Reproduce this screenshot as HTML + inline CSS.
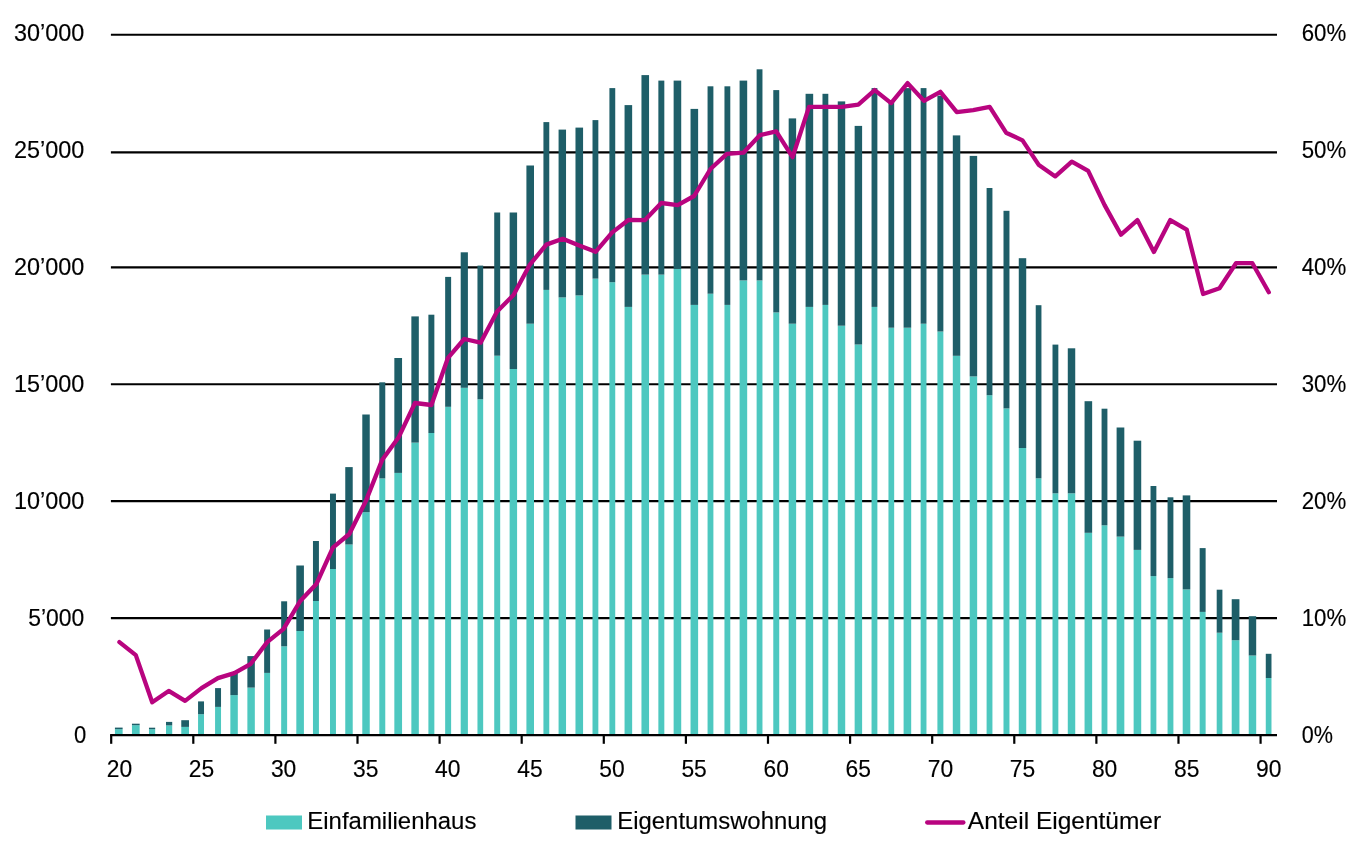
<!DOCTYPE html>
<html><head><meta charset="utf-8"><title>Chart</title>
<style>
html,body{margin:0;padding:0;background:#fff;}
body{width:1360px;height:855px;overflow:hidden;}
svg{display:block;filter:blur(0.45px);}
text{font-family:"Liberation Sans",sans-serif;font-size:23.5px;fill:#000;stroke:#000;stroke-width:0.15px;}
</style></head><body>
<svg width="1360" height="855" viewBox="0 0 1360 855">
<rect width="1360" height="855" fill="#fff"/>
<g stroke="#000" stroke-width="2.2">
<line x1="110.9" y1="34.77" x2="1277" y2="34.77"/>
<line x1="110.9" y1="152.28" x2="1277" y2="152.28"/>
<line x1="110.9" y1="267.3" x2="1277" y2="267.3"/>
<line x1="110.9" y1="384.25" x2="1277" y2="384.25"/>
<line x1="110.9" y1="501.17" x2="1277" y2="501.17"/>
<line x1="110.9" y1="618.07" x2="1277" y2="618.07"/>
</g>
<g fill="#4DC8C0">
<rect x="114.92" y="729.2" width="7.71" height="5.9"/>
<rect x="131.95" y="725.2" width="7.71" height="9.9"/>
<rect x="148.97" y="729.2" width="6.21" height="5.9"/>
<rect x="166.00" y="725.4" width="6.21" height="9.7"/>
<rect x="181.27" y="726.9" width="7.71" height="8.2"/>
<rect x="198.05" y="714.2" width="5.96" height="20.9"/>
<rect x="215.07" y="706.9" width="5.96" height="28.2"/>
<rect x="230.35" y="695.1" width="7.46" height="40.0"/>
<rect x="247.37" y="687.6" width="7.46" height="47.5"/>
<rect x="264.15" y="672.9" width="5.96" height="62.2"/>
<rect x="281.17" y="646.3" width="5.96" height="88.8"/>
<rect x="296.32" y="631.0" width="7.59" height="104.1"/>
<rect x="312.96" y="601.0" width="5.96" height="134.1"/>
<rect x="329.99" y="569.0" width="5.96" height="166.1"/>
<rect x="345.26" y="544.5" width="7.46" height="190.6"/>
<rect x="362.29" y="512.2" width="7.46" height="222.9"/>
<rect x="379.31" y="478.4" width="5.96" height="256.7"/>
<rect x="394.34" y="472.9" width="7.71" height="262.2"/>
<rect x="411.36" y="442.6" width="7.46" height="292.5"/>
<rect x="428.39" y="433.0" width="5.96" height="302.1"/>
<rect x="445.16" y="406.8" width="5.96" height="328.3"/>
<rect x="460.69" y="387.8" width="7.21" height="347.3"/>
<rect x="477.46" y="399.3" width="5.71" height="335.8"/>
<rect x="494.23" y="355.7" width="5.96" height="379.4"/>
<rect x="509.63" y="369.0" width="7.46" height="366.1"/>
<rect x="526.41" y="323.7" width="7.59" height="411.4"/>
<rect x="543.43" y="289.9" width="5.83" height="445.2"/>
<rect x="558.58" y="297.4" width="7.46" height="437.7"/>
<rect x="575.48" y="295.4" width="7.59" height="439.7"/>
<rect x="592.51" y="278.6" width="5.83" height="456.5"/>
<rect x="609.41" y="282.2" width="5.83" height="452.9"/>
<rect x="624.56" y="306.9" width="7.59" height="428.2"/>
<rect x="641.46" y="274.6" width="7.59" height="460.5"/>
<rect x="658.36" y="274.6" width="5.96" height="460.5"/>
<rect x="673.63" y="268.9" width="7.59" height="466.2"/>
<rect x="690.53" y="304.9" width="7.59" height="430.2"/>
<rect x="707.56" y="293.7" width="5.83" height="441.4"/>
<rect x="724.46" y="304.9" width="5.83" height="430.2"/>
<rect x="739.60" y="280.4" width="7.59" height="454.7"/>
<rect x="756.63" y="280.4" width="5.83" height="454.7"/>
<rect x="773.28" y="312.4" width="5.96" height="422.7"/>
<rect x="788.68" y="323.7" width="7.46" height="411.4"/>
<rect x="805.58" y="306.9" width="7.59" height="428.2"/>
<rect x="822.48" y="304.9" width="5.83" height="430.2"/>
<rect x="837.75" y="325.7" width="7.46" height="409.4"/>
<rect x="854.65" y="344.5" width="7.46" height="390.6"/>
<rect x="871.55" y="306.9" width="5.83" height="428.2"/>
<rect x="888.46" y="327.7" width="5.71" height="407.4"/>
<rect x="903.60" y="327.7" width="7.59" height="407.4"/>
<rect x="920.63" y="323.7" width="5.83" height="411.4"/>
<rect x="937.40" y="331.5" width="5.96" height="403.6"/>
<rect x="952.80" y="355.8" width="7.46" height="379.3"/>
<rect x="969.70" y="376.4" width="7.46" height="358.7"/>
<rect x="986.60" y="395.2" width="5.83" height="339.9"/>
<rect x="1003.50" y="408.4" width="5.96" height="326.7"/>
<rect x="1018.77" y="448.0" width="7.46" height="287.1"/>
<rect x="1035.73" y="478.3" width="5.71" height="256.8"/>
<rect x="1052.51" y="493.3" width="5.83" height="241.8"/>
<rect x="1067.78" y="493.3" width="7.46" height="241.8"/>
<rect x="1084.56" y="532.8" width="7.59" height="202.3"/>
<rect x="1101.58" y="525.3" width="5.83" height="209.8"/>
<rect x="1116.61" y="536.6" width="7.71" height="198.5"/>
<rect x="1133.63" y="549.9" width="7.59" height="185.2"/>
<rect x="1150.53" y="576.1" width="5.83" height="159.0"/>
<rect x="1167.56" y="578.1" width="5.83" height="157.0"/>
<rect x="1182.70" y="589.4" width="7.59" height="145.7"/>
<rect x="1199.67" y="611.9" width="5.96" height="123.2"/>
<rect x="1216.70" y="632.7" width="5.71" height="102.4"/>
<rect x="1231.72" y="640.2" width="7.71" height="94.9"/>
<rect x="1248.74" y="655.5" width="7.46" height="79.6"/>
<rect x="1265.77" y="678.0" width="5.71" height="57.1"/>
</g>
<g fill="#1E5E68">
<rect x="114.92" y="727.6" width="7.71" height="1.6"/>
<rect x="131.95" y="723.7" width="7.71" height="1.5"/>
<rect x="148.97" y="727.7" width="6.21" height="1.5"/>
<rect x="166.00" y="721.9" width="6.21" height="3.5"/>
<rect x="181.27" y="720.2" width="7.71" height="6.7"/>
<rect x="198.05" y="701.4" width="5.96" height="12.8"/>
<rect x="215.07" y="688.1" width="5.96" height="18.8"/>
<rect x="230.35" y="672.6" width="7.46" height="22.5"/>
<rect x="247.37" y="656.1" width="7.46" height="31.5"/>
<rect x="264.15" y="629.5" width="5.96" height="43.4"/>
<rect x="281.17" y="601.3" width="5.96" height="45.0"/>
<rect x="296.32" y="565.5" width="7.59" height="65.5"/>
<rect x="312.96" y="541.0" width="5.96" height="60.0"/>
<rect x="329.99" y="493.6" width="5.96" height="75.4"/>
<rect x="345.26" y="467.1" width="7.46" height="77.4"/>
<rect x="362.29" y="414.5" width="7.46" height="97.7"/>
<rect x="379.31" y="382.3" width="5.96" height="96.1"/>
<rect x="394.34" y="358.0" width="7.71" height="114.9"/>
<rect x="411.36" y="316.4" width="7.46" height="126.2"/>
<rect x="428.39" y="314.7" width="5.96" height="118.3"/>
<rect x="445.16" y="276.9" width="5.96" height="129.9"/>
<rect x="460.69" y="252.3" width="7.21" height="135.5"/>
<rect x="477.46" y="265.6" width="5.71" height="133.7"/>
<rect x="494.23" y="212.5" width="5.96" height="143.2"/>
<rect x="509.63" y="212.5" width="7.46" height="156.5"/>
<rect x="526.41" y="165.5" width="7.59" height="158.2"/>
<rect x="543.43" y="122.1" width="5.83" height="167.8"/>
<rect x="558.58" y="129.6" width="7.46" height="167.8"/>
<rect x="575.48" y="127.6" width="7.59" height="167.8"/>
<rect x="592.51" y="120.1" width="5.83" height="158.5"/>
<rect x="609.41" y="88.1" width="5.83" height="194.1"/>
<rect x="624.56" y="105.1" width="7.59" height="201.8"/>
<rect x="641.46" y="75.1" width="7.59" height="199.5"/>
<rect x="658.36" y="80.6" width="5.96" height="194.0"/>
<rect x="673.63" y="80.6" width="7.59" height="188.3"/>
<rect x="690.53" y="108.9" width="7.59" height="196.0"/>
<rect x="707.56" y="86.3" width="5.83" height="207.4"/>
<rect x="724.46" y="86.3" width="5.83" height="218.6"/>
<rect x="739.60" y="80.6" width="7.59" height="199.8"/>
<rect x="756.63" y="69.3" width="5.83" height="211.1"/>
<rect x="773.28" y="90.1" width="5.96" height="222.3"/>
<rect x="788.68" y="118.4" width="7.46" height="205.3"/>
<rect x="805.58" y="93.8" width="7.59" height="213.1"/>
<rect x="822.48" y="93.8" width="5.83" height="211.1"/>
<rect x="837.75" y="101.4" width="7.46" height="224.3"/>
<rect x="854.65" y="125.9" width="7.46" height="218.6"/>
<rect x="871.55" y="88.1" width="5.83" height="218.8"/>
<rect x="888.46" y="102.0" width="5.71" height="225.7"/>
<rect x="903.60" y="88.1" width="7.59" height="239.6"/>
<rect x="920.63" y="88.1" width="5.83" height="235.6"/>
<rect x="937.40" y="95.6" width="5.96" height="235.9"/>
<rect x="952.80" y="135.4" width="7.46" height="220.4"/>
<rect x="969.70" y="155.9" width="7.46" height="220.5"/>
<rect x="986.60" y="188.0" width="5.83" height="207.2"/>
<rect x="1003.50" y="210.8" width="5.96" height="197.6"/>
<rect x="1018.77" y="258.2" width="7.46" height="189.8"/>
<rect x="1035.73" y="305.2" width="5.71" height="173.1"/>
<rect x="1052.51" y="344.6" width="5.83" height="148.7"/>
<rect x="1067.78" y="348.3" width="7.46" height="145.0"/>
<rect x="1084.56" y="401.2" width="7.59" height="131.6"/>
<rect x="1101.58" y="408.7" width="5.83" height="116.6"/>
<rect x="1116.61" y="427.5" width="7.71" height="109.1"/>
<rect x="1133.63" y="440.7" width="7.59" height="109.2"/>
<rect x="1150.53" y="486.0" width="5.83" height="90.1"/>
<rect x="1167.56" y="497.3" width="5.83" height="80.8"/>
<rect x="1182.70" y="495.4" width="7.59" height="94.0"/>
<rect x="1199.67" y="548.1" width="5.96" height="63.8"/>
<rect x="1216.70" y="589.7" width="5.71" height="43.0"/>
<rect x="1231.72" y="599.2" width="7.71" height="41.0"/>
<rect x="1248.74" y="616.2" width="7.46" height="39.3"/>
<rect x="1265.77" y="653.8" width="5.71" height="24.2"/>
</g>
<g stroke="#000" stroke-width="2.2">
<line x1="110.1" y1="735.08" x2="1277" y2="735.08"/>
<line x1="111.20" y1="735.08" x2="111.20" y2="743.8"/>
<line x1="193.30" y1="735.08" x2="193.30" y2="743.8"/>
<line x1="275.40" y1="735.08" x2="275.40" y2="743.8"/>
<line x1="357.50" y1="735.08" x2="357.50" y2="743.8"/>
<line x1="439.59" y1="735.08" x2="439.59" y2="743.8"/>
<line x1="521.69" y1="735.08" x2="521.69" y2="743.8"/>
<line x1="603.79" y1="735.08" x2="603.79" y2="743.8"/>
<line x1="685.89" y1="735.08" x2="685.89" y2="743.8"/>
<line x1="767.99" y1="735.08" x2="767.99" y2="743.8"/>
<line x1="850.09" y1="735.08" x2="850.09" y2="743.8"/>
<line x1="932.19" y1="735.08" x2="932.19" y2="743.8"/>
<line x1="1014.28" y1="735.08" x2="1014.28" y2="743.8"/>
<line x1="1096.38" y1="735.08" x2="1096.38" y2="743.8"/>
<line x1="1178.48" y1="735.08" x2="1178.48" y2="743.8"/>
<line x1="1260.58" y1="735.08" x2="1260.58" y2="743.8"/>
</g>
<polyline points="119.4,642.1 135.8,655.1 152.2,702.2 168.7,690.9 185.1,700.9 201.5,688.1 217.9,678.1 234.3,673.1 250.8,663.8 267.2,642.1 283.6,628.8 300.0,601.3 316.4,584.0 332.9,547.7 349.3,534.0 365.7,501.4 382.1,460.1 398.5,437.6 415.0,403.0 431.4,405.0 447.8,358.2 464.2,339.0 480.6,342.7 497.1,311.4 513.5,295.1 529.9,264.6 546.3,244.6 562.7,238.8 579.2,245.6 595.6,251.8 612.0,232.6 628.4,220.0 644.8,220.2 661.3,203.0 677.7,205.2 694.1,196.0 710.5,169.0 726.9,153.9 743.4,152.7 759.8,135.2 776.2,131.4 792.6,157.2 809.0,106.9 825.5,106.9 841.9,106.9 858.3,104.6 874.7,90.1 891.1,103.1 907.6,83.1 924.0,100.9 940.4,91.8 956.8,112.1 973.2,110.1 989.7,106.9 1006.1,132.7 1022.5,140.4 1038.9,165.1 1055.3,176.4 1071.8,161.6 1088.2,170.9 1104.6,205.1 1121.0,234.7 1137.4,220.1 1153.9,251.9 1170.3,220.1 1186.7,229.6 1203.1,294.0 1219.5,288.2 1236.0,263.2 1252.4,263.2 1268.8,292.2" fill="none" stroke="#B8047F" stroke-width="4.3" stroke-linejoin="round" stroke-linecap="round"/>
<text transform="translate(13.90,41.30) scale(0.9972,1.0000)">30’000</text>
<text transform="translate(13.90,158.27) scale(0.9972,1.0000)">25’000</text>
<text transform="translate(13.90,275.24) scale(0.9972,1.0000)">20’000</text>
<text transform="translate(13.90,392.21) scale(0.9972,1.0000)">15’000</text>
<text transform="translate(13.90,509.18) scale(0.9972,1.0000)">10’000</text>
<text transform="translate(28.20,626.15) scale(0.9757,1.0000)">5’000</text>
<text transform="translate(74.00,743.12) scale(0.9389,1.0000)">0</text>
<text transform="translate(1301.70,41.30) scale(0.9468,1.0000)">60%</text>
<text transform="translate(1301.70,158.27) scale(0.9468,1.0000)">50%</text>
<text transform="translate(1301.70,275.24) scale(0.9468,1.0000)">40%</text>
<text transform="translate(1301.70,392.21) scale(0.9468,1.0000)">30%</text>
<text transform="translate(1301.70,509.18) scale(0.9468,1.0000)">20%</text>
<text transform="translate(1301.70,626.15) scale(0.9468,1.0000)">10%</text>
<text transform="translate(1301.75,743.12) scale(0.9191,1.0000)">0%</text>
<text transform="translate(106.71,777.00) scale(0.9732,1.0000)">20</text>
<text transform="translate(188.81,777.00) scale(0.9732,1.0000)">25</text>
<text transform="translate(270.91,777.00) scale(0.9732,1.0000)">30</text>
<text transform="translate(353.01,777.00) scale(0.9732,1.0000)">35</text>
<text transform="translate(435.10,777.00) scale(0.9732,1.0000)">40</text>
<text transform="translate(517.20,777.00) scale(0.9732,1.0000)">45</text>
<text transform="translate(599.30,777.00) scale(0.9732,1.0000)">50</text>
<text transform="translate(681.40,777.00) scale(0.9732,1.0000)">55</text>
<text transform="translate(763.50,777.00) scale(0.9732,1.0000)">60</text>
<text transform="translate(845.60,777.00) scale(0.9732,1.0000)">65</text>
<text transform="translate(927.70,777.00) scale(0.9732,1.0000)">70</text>
<text transform="translate(1009.79,777.00) scale(0.9732,1.0000)">75</text>
<text transform="translate(1091.89,777.00) scale(0.9732,1.0000)">80</text>
<text transform="translate(1173.99,777.00) scale(0.9732,1.0000)">85</text>
<text transform="translate(1256.09,777.00) scale(0.9732,1.0000)">90</text>
<rect x="266" y="815.5" width="36" height="14" fill="#4DC8C0"/>
<text transform="translate(307.30,829.20) scale(1.0199,1.0000)">Einfamilienhaus</text>
<rect x="575.5" y="815.5" width="36" height="14" fill="#1E5E68"/>
<text transform="translate(617.30,829.20) scale(1.0165,1.0000)">Eigentumswohnung</text>
<line x1="927.2" y1="822.5" x2="963.4" y2="822.5" stroke="#B8047F" stroke-width="4.3" stroke-linecap="round"/>
<text transform="translate(967.80,829.20) scale(1.0426,1.0000)">Anteil Eigentümer</text>
</svg>
</body></html>
